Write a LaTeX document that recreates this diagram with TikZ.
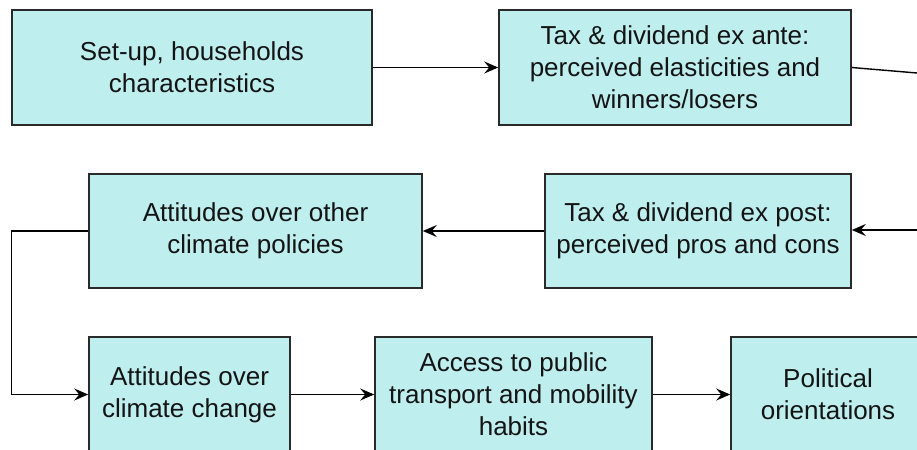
\documentclass[tikz,border=0pt]{standalone}
\usepackage{fontspec}
\setmainfont{Liberation Sans}
\usepackage{tikz}
\usetikzlibrary{arrows.meta}
\usepackage{xcolor}
\definecolor{FontColor}{HTML}{141414}
\definecolor{BoxFill}{HTML}{BFEEEE}
\definecolor{BoxLine}{HTML}{2A2A2A}
\newcommand\nodesetup{Set-up, households\\characteristics}
\newcommand\nodeexante{Tax \& dividend ex ante:\\perceived elasticities and\\winners/losers}
\newcommand\nodeother{Attitudes over other\\climate policies}
\newcommand\nodeexpost{Tax \& dividend ex post:\\perceived pros and cons}
\newcommand\nodechange{Attitudes over\\climate change}
\newcommand\nodeaccess{Access to public\\transport and mobility\\habits}
\newcommand\nodepol{Political\\orientations}
\tikzstyle{stepbox} = [rectangle, draw=BoxLine, fill=BoxFill, text=FontColor, align=center,
  font=\fontsize{13}{16}\selectfont, inner sep=0pt, line width=0.8pt]
\tikzset{>={Stealth[length=7pt,width=6pt,inset=2.5pt]}, every picture/.style={line width=0.7pt}}

\begin{document}
\begin{tikzpicture}[x=0.5pt, y=-0.5pt]
\useasboundingbox (0,0) rectangle (917,450);
\clip (0,0) rectangle (917,450);
\node[stepbox, minimum width=180pt, minimum height=57.5pt] (setup) at (192, 67.5) {\nodesetup};
\node[stepbox, minimum width=176pt, minimum height=57.5pt] (exante) at (675, 67.5) {\nodeexante};
\node[stepbox, minimum width=166.5pt, minimum height=57pt] (other) at (255.5, 231) {\nodeother};
\node[stepbox, minimum width=153pt, minimum height=57pt] (expost) at (698, 231) {\nodeexpost};
\node[stepbox, minimum width=100.5pt, minimum height=57.5pt] (change) at (189.5, 394.5) {\nodechange};
\node[stepbox, minimum width=138.5pt, minimum height=57.5pt] (access) at (513.5, 394.5) {\nodeaccess};
\node[stepbox, minimum width=97pt, minimum height=57.5pt] (pol) at (828, 394.5) {\nodepol};
\coordinate (exanteout) at (917, 73);
\coordinate (expostin) at (917, 230);
\draw [->] (setup) -- (exante);
\draw (exante.east) -- (exanteout);
\draw [->] (expostin) -- (expost.east |- expostin);
\draw [->] (expost) -- (other);
\draw [->] (other.west) -- ++(-77,0) |- (change.west);
\draw [->] (change) -- (access);
\draw [->] (access) -- (pol);
\end{tikzpicture}
\end{document}
